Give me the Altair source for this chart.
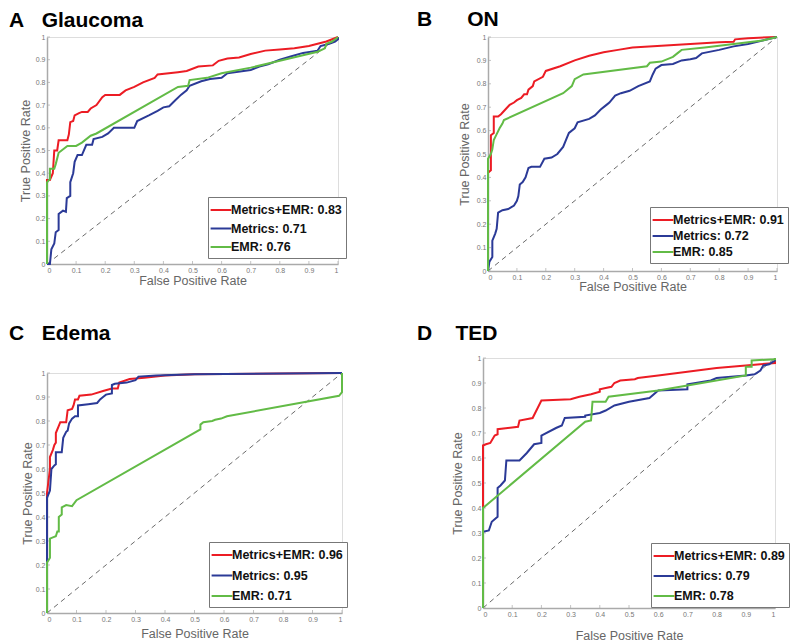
import altair as alt
import pandas as pd

TICKS = [0, 0.1, 0.2, 0.3, 0.4, 0.5, 0.6, 0.7, 0.8, 0.9, 1]
SERIES = ["Metrics+EMR", "Metrics", "EMR"]
COLORS = ["#ec1c24", "#2b3a97", "#62bb46"]

# ---- Panel A: Glaucoma ----
A_AUC = ["0.83", "0.71", "0.76"]
A_RED = [(0, 0), (0, 0.37), (0.01, 0.37), (0.02, 0.4), (0.025, 0.5), (0.035, 0.5), (0.04, 0.545),
         (0.07, 0.545), (0.075, 0.57), (0.08, 0.625), (0.09, 0.63), (0.095, 0.655), (0.11, 0.665),
         (0.12, 0.67), (0.14, 0.67), (0.15, 0.685), (0.17, 0.7), (0.19, 0.735), (0.2, 0.745),
         (0.25, 0.745), (0.27, 0.765), (0.3, 0.78), (0.33, 0.8), (0.37, 0.82), (0.38, 0.835),
         (0.45, 0.845), (0.48, 0.85), (0.52, 0.87), (0.57, 0.875), (0.59, 0.895), (0.62, 0.905),
         (0.66, 0.91), (0.7, 0.925), (0.75, 0.94), (0.8, 0.945), (0.85, 0.95), (0.9, 0.96),
         (0.93, 0.97), (0.96, 0.98), (0.98, 0.99), (1, 1)]
A_BLUE = [(0, 0), (0.01, 0), (0.015, 0.065), (0.025, 0.09), (0.03, 0.14), (0.04, 0.15), (0.04, 0.22),
          (0.055, 0.235), (0.065, 0.23), (0.068, 0.29), (0.08, 0.3), (0.08, 0.36), (0.09, 0.4),
          (0.095, 0.45), (0.105, 0.48), (0.12, 0.48), (0.135, 0.525), (0.155, 0.525), (0.16, 0.55),
          (0.19, 0.56), (0.21, 0.575), (0.23, 0.6), (0.3, 0.6), (0.31, 0.63), (0.35, 0.655),
          (0.38, 0.675), (0.4, 0.69), (0.42, 0.695), (0.44, 0.72), (0.46, 0.745), (0.48, 0.765),
          (0.49, 0.785), (0.53, 0.805), (0.56, 0.815), (0.6, 0.82), (0.62, 0.84), (0.7, 0.855),
          (0.73, 0.87), (0.76, 0.88), (0.8, 0.9), (0.84, 0.915), (0.88, 0.93), (0.93, 0.94),
          (0.94, 0.96), (0.97, 0.97), (0.99, 0.98), (1, 0.99), (1, 1)]
A_GREEN = [(0, 0), (0, 0.36), (0.01, 0.375), (0.01, 0.42), (0.025, 0.42), (0.03, 0.44), (0.04, 0.49),
           (0.06, 0.51), (0.07, 0.52), (0.1, 0.52), (0.12, 0.535), (0.15, 0.565), (0.17, 0.575),
           (0.45, 0.78), (0.485, 0.785), (0.49, 0.81), (0.55, 0.82), (0.6, 0.84), (0.7, 0.865),
           (0.8, 0.895), (0.93, 0.935), (0.955, 0.95), (0.96, 0.97), (0.98, 0.98), (1, 1)]

# ---- Panel B: ON ----
B_AUC = ["0.91", "0.72", "0.85"]
B_RED = [(0, 0), (0, 0.42), (0.01, 0.43), (0.01, 0.58), (0.02, 0.59), (0.02, 0.66), (0.035, 0.66),
         (0.045, 0.67), (0.06, 0.69), (0.075, 0.71), (0.09, 0.72), (0.1, 0.73), (0.115, 0.74),
         (0.125, 0.755), (0.135, 0.755), (0.14, 0.775), (0.155, 0.79), (0.16, 0.81), (0.19, 0.83),
         (0.2, 0.855), (0.25, 0.875), (0.3, 0.9), (0.35, 0.92), (0.4, 0.935), (0.45, 0.945),
         (0.5, 0.955), (0.6, 0.963), (0.7, 0.97), (0.8, 0.978), (0.85, 0.98), (0.855, 0.99),
         (0.9, 0.995), (1, 1)]
B_BLUE = [(0, 0), (0.005, 0.04), (0.015, 0.06), (0.015, 0.13), (0.025, 0.16), (0.03, 0.18),
          (0.035, 0.25), (0.05, 0.26), (0.07, 0.265), (0.09, 0.28), (0.1, 0.3), (0.105, 0.32),
          (0.11, 0.37), (0.12, 0.38), (0.13, 0.4), (0.14, 0.44), (0.15, 0.445), (0.18, 0.445),
          (0.195, 0.48), (0.22, 0.485), (0.24, 0.5), (0.26, 0.53), (0.27, 0.56), (0.28, 0.59),
          (0.3, 0.61), (0.31, 0.635), (0.35, 0.65), (0.37, 0.665), (0.39, 0.69), (0.41, 0.71),
          (0.42, 0.72), (0.44, 0.75), (0.46, 0.76), (0.49, 0.77), (0.52, 0.79), (0.56, 0.81),
          (0.57, 0.84), (0.58, 0.865), (0.6, 0.88), (0.64, 0.885), (0.67, 0.9), (0.7, 0.905),
          (0.72, 0.91), (0.74, 0.93), (0.8, 0.945), (0.85, 0.96), (0.9, 0.97), (0.95, 0.985), (1, 1)]
B_GREEN = [(0, 0), (0, 0.48), (0.01, 0.5), (0.015, 0.52), (0.02, 0.56), (0.03, 0.585), (0.04, 0.61),
           (0.05, 0.63), (0.055, 0.645), (0.26, 0.76), (0.29, 0.79), (0.3, 0.82), (0.33, 0.84),
           (0.55, 0.875), (0.56, 0.89), (0.6, 0.895), (0.64, 0.915), (0.655, 0.93), (0.67, 0.945),
           (0.75, 0.955), (0.85, 0.97), (0.95, 0.985), (1, 1)]

# ---- Panel C: Edema ----
C_AUC = ["0.96", "0.95", "0.71"]
C_RED = [(0, 0), (0, 0.5), (0.005, 0.55), (0.01, 0.6), (0.01, 0.65), (0.02, 0.68), (0.025, 0.7),
         (0.03, 0.71), (0.03, 0.75), (0.04, 0.78), (0.045, 0.795), (0.065, 0.795), (0.07, 0.845),
         (0.085, 0.85), (0.09, 0.865), (0.095, 0.89), (0.105, 0.89), (0.11, 0.905), (0.15, 0.91),
         (0.19, 0.925), (0.22, 0.935), (0.24, 0.935), (0.245, 0.96), (0.28, 0.975), (0.33, 0.98),
         (0.4, 0.99), (0.5, 0.995), (1, 1)]
C_BLUE = [(0, 0), (0, 0.22), (0, 0.48), (0.01, 0.51), (0.015, 0.6), (0.025, 0.615), (0.03, 0.62),
          (0.03, 0.67), (0.05, 0.67), (0.055, 0.73), (0.065, 0.755), (0.07, 0.76), (0.075, 0.79),
          (0.085, 0.81), (0.095, 0.82), (0.105, 0.82), (0.105, 0.865), (0.14, 0.87), (0.17, 0.875),
          (0.18, 0.89), (0.19, 0.9), (0.2, 0.91), (0.22, 0.915), (0.22, 0.95), (0.23, 0.955),
          (0.27, 0.96), (0.3, 0.97), (0.31, 0.985), (0.37, 0.99), (0.5, 0.995), (1, 1)]
C_GREEN = [(0, 0), (0, 0.21), (0.005, 0.22), (0.01, 0.23), (0.01, 0.31), (0.02, 0.315), (0.03, 0.32),
           (0.035, 0.34), (0.04, 0.34), (0.04, 0.4), (0.05, 0.41), (0.05, 0.44), (0.065, 0.45),
           (0.085, 0.445), (0.1, 0.47), (0.52, 0.765), (0.52, 0.785), (0.53, 0.795), (0.56, 0.8),
           (0.57, 0.805), (0.59, 0.81), (0.61, 0.82), (0.99, 0.905), (1, 0.92), (1, 1)]

# ---- Panel D: TED ----
D_AUC = ["0.89", "0.79", "0.78"]
D_RED = [(0, 0), (0, 0.65), (0.01, 0.655), (0.025, 0.66), (0.04, 0.69), (0.05, 0.695), (0.05, 0.715),
         (0.12, 0.725), (0.125, 0.75), (0.17, 0.76), (0.2, 0.83), (0.3, 0.835), (0.33, 0.845),
         (0.37, 0.855), (0.4, 0.865), (0.4, 0.875), (0.42, 0.88), (0.44, 0.885), (0.45, 0.9),
         (0.47, 0.91), (0.52, 0.915), (0.53, 0.92), (0.6, 0.93), (0.7, 0.945), (0.8, 0.96),
         (0.9, 0.97), (0.95, 0.975), (1, 0.98), (1, 1)]
D_BLUE = [(0, 0), (0, 0.305), (0.02, 0.31), (0.03, 0.345), (0.045, 0.36), (0.05, 0.365), (0.05, 0.48),
          (0.06, 0.49), (0.075, 0.51), (0.08, 0.59), (0.125, 0.59), (0.15, 0.62), (0.175, 0.655),
          (0.2, 0.66), (0.2, 0.69), (0.25, 0.72), (0.27, 0.73), (0.28, 0.76), (0.35, 0.765),
          (0.35, 0.77), (0.4, 0.78), (0.42, 0.79), (0.45, 0.81), (0.5, 0.825), (0.57, 0.84),
          (0.6, 0.87), (0.7, 0.875), (0.7, 0.895), (0.78, 0.91), (0.8, 0.92), (0.9, 0.93),
          (0.93, 0.935), (0.95, 0.95), (0.96, 0.97), (0.98, 0.975), (1, 0.99), (1, 1)]
D_GREEN = [(0, 0), (0, 0.4), (0.35, 0.745), (0.37, 0.75), (0.375, 0.825), (0.42, 0.825), (0.43, 0.845),
           (0.6, 0.87), (0.7, 0.89), (0.9, 0.93), (0.9, 0.965), (0.92, 0.965), (0.92, 0.99),
           (1, 0.995), (1, 1)]

FONT = "Liberation Sans"


def panel(title, curves, aucs, w, h, lx, ly, lrp, tdx, toff, xtp, ytp):
    labels = [f"{s}: {a}" for s, a in zip(SERIES, aucs)]
    rows = []
    for lab, pts in zip(labels, curves):
        for i, (x, y) in enumerate(pts):
            rows.append({"fpr": x, "tpr": y, "series": lab, "i": i})
    df = pd.DataFrame(rows)
    diag = pd.DataFrame({"d": [0, 1]})
    ticks = pd.DataFrame({"v": TICKS})

    xs = alt.Scale(domain=[0, 1], nice=False, zero=False)
    ys = alt.Scale(domain=[0, 1], nice=False, zero=False)
    common = dict(values=TICKS, format="~g", grid=False, ticks=False, tickSize=0,
                  domainColor="#aaaaaa", domainWidth=1.5,
                  labelFont=FONT, labelFontSize=7, labelColor="#777777", labelPadding=2,
                  titleFont=FONT, titleFontSize=12.5, titleFontWeight="normal", titleColor="#666666")
    xaxis = alt.Axis(title="False Positive Rate", titlePadding=xtp, **common)
    yaxis = alt.Axis(title="True Positive Rate", titlePadding=ytp, **common)

    leg = alt.Legend(orient="none", legendX=lx, legendY=ly, title=None,
                     symbolType="M-1.3,0H1.3", symbolSize=256, symbolStrokeWidth=2,
                     labelFont=FONT, labelFontSize=12.5, labelFontWeight="bold",
                     labelColor="#111111", labelOffset=1, rowPadding=lrp, padding=4,
                     fillColor="white", strokeColor="#777777")

    d = alt.Chart(diag).mark_line(strokeDash=[5, 4], color="#444444", strokeWidth=0.8).encode(
        x=alt.X("d:Q", scale=xs, axis=xaxis), y=alt.Y("d:Q", scale=ys, axis=yaxis))
    xt = alt.Chart(ticks).mark_tick(orient="vertical", size=3, thickness=1, color="#aaaaaa",
                                    yOffset=-1.5).encode(
        x=alt.X("v:Q", scale=xs, axis=xaxis), y=alt.Y(datum=0, type="quantitative", scale=ys, axis=yaxis))
    yt = alt.Chart(ticks).mark_tick(orient="horizontal", size=3, thickness=1, color="#aaaaaa",
                                    xOffset=1.5).encode(
        y=alt.Y("v:Q", scale=ys, axis=yaxis), x=alt.X(datum=0, type="quantitative", scale=xs, axis=xaxis))
    lines = alt.Chart(df).mark_line(strokeWidth=2).encode(
        x=alt.X("fpr:Q", scale=xs, axis=xaxis),
        y=alt.Y("tpr:Q", scale=ys, axis=yaxis),
        color=alt.Color("series:N", scale=alt.Scale(domain=labels, range=COLORS), legend=leg),
        order="i:Q")
    return alt.layer(d, xt, yt, lines).properties(
        width=w, height=h,
        title=alt.TitleParams(text=title, anchor="start", frame="group", dx=tdx, offset=toff,
                              font=FONT, fontSize=21, fontWeight="bold", color="black"))


NB = "\u00a0"
A = panel("A" + NB * 3 + "Glaucoma", [A_RED, A_BLUE, A_GREEN], A_AUC, 291, 227, 161, 160, 2.5, -38, 2, 1, 3)
B = panel("B" + NB * 6 + "ON", [B_RED, B_BLUE, B_GREEN], B_AUC, 289, 234, 162, 170, 0, -71, 3, 0, 5)
C = panel("C" + NB * 3 + "Edema", [C_RED, C_BLUE, C_GREEN], C_AUC, 295, 240, 162, 169, 4.5, -38, 25, 5, 1)
D = panel("D" + NB * 4 + "TED", [D_RED, D_BLUE, D_GREEN], D_AUC, 292, 250, 168, 185, 4, -66, 10, 12, 7)

chart = alt.concat(A, B, C, D, columns=2, align="none", spacing={"row": 29, "column": 68}).resolve_scale(
    color="independent", x="independent", y="independent").resolve_legend(color="independent").properties(
    padding=0, background="white").configure_view(strokeWidth=0).configure(font=FONT)

chart.save("out.html", embed_options={"renderer": "svg", "actions": False})
